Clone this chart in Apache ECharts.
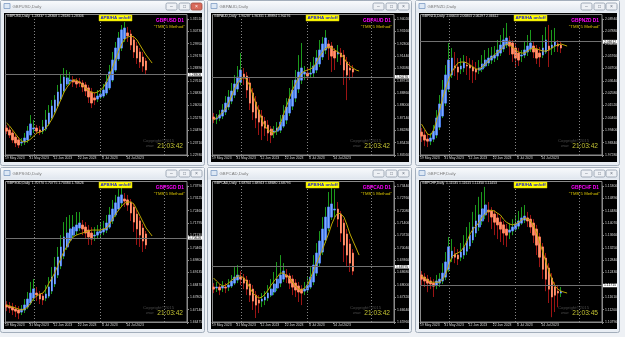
<!DOCTYPE html>
<html><head><meta charset="utf-8">
<script src="https://cdn.jsdelivr.net/npm/echarts/dist/echarts.min.js"></script>
<style>html,body{margin:0;padding:0;background:#eef1f5;overflow:hidden}#c{width:625px;height:337px}</style>
</head><body><div id="c"></div>
<script>
const dates=['19 May 2023','22 May 2023','23 May 2023','24 May 2023','25 May 2023','26 May 2023','29 May 2023','30 May 2023','31 May 2023',
'1 Jun 2023','2 Jun 2023','5 Jun 2023','6 Jun 2023','7 Jun 2023','8 Jun 2023','9 Jun 2023','12 Jun 2023','13 Jun 2023','14 Jun 2023','15 Jun 2023','16 Jun 2023','19 Jun 2023','20 Jun 2023','21 Jun 2023','22 Jun 2023','23 Jun 2023','26 Jun 2023','27 Jun 2023','28 Jun 2023','29 Jun 2023','30 Jun 2023',
'3 Jul 2023','4 Jul 2023','5 Jul 2023','6 Jul 2023','7 Jul 2023','10 Jul 2023','11 Jul 2023','12 Jul 2023','13 Jul 2023','14 Jul 2023','17 Jul 2023','18 Jul 2023','19 Jul 2023','20 Jul 2023','21 Jul 2023','24 Jul 2023',
'25 Jul 2023','26 Jul 2023','27 Jul 2023','28 Jul 2023','31 Jul 2023','1 Aug 2023','2 Aug 2023','3 Aug 2023','4 Aug 2023','7 Aug 2023','8 Aug 2023','9 Aug 2023','10 Aug 2023'];
const dateLabels=['19 May 2023','31 May 2023','12 Jun 2023','22 Jun 2023','4 Jul 2023','14 Jul 2023'];
const monthSeparators=['1 Jun 2023','3 Jul 2023','1 Aug 2023'];

// GBPUSD
const usdTicks=['1.31510','1.30730','1.29950','1.29170','1.28390','1.27610','1.26830','1.26050','1.25270','1.24490','1.23710','1.22930'];
const usdOpen=[1.2463,1.2451,1.2432,1.2406,1.2388,1.2369,1.2375,1.2388,1.2419,1.2457,1.2463,1.2451,1.2444,1.2457,1.2489,1.2526,1.2564,1.2602,1.2646,1.2697,1.2741,1.2760,1.2766,1.2760,1.2754,1.2747,1.2735,1.2716,1.2690,1.2653,1.2646,1.2659,1.2665,1.2684,1.2716,1.2766,1.2829,1.2899,1.2968,1.3025,1.3063,1.3056,1.3019,1.2981,1.2943,1.2911,1.2886];
const usdClose=[1.2444,1.2419,1.2388,1.2369,1.2356,1.2375,1.2400,1.2444,1.2489,1.2463,1.2444,1.2438,1.2470,1.2514,1.2558,1.2602,1.2640,1.2690,1.2741,1.2785,1.2779,1.2766,1.2754,1.2741,1.2747,1.2722,1.2697,1.2659,1.2621,1.2640,1.2665,1.2678,1.2703,1.2754,1.2817,1.2892,1.2968,1.3031,1.3082,1.3094,1.3044,1.2987,1.2943,1.2905,1.2880,1.2854,1.2829];
const usdHigh=[1.2482,1.2470,1.2451,1.2425,1.2406,1.2400,1.2432,1.2476,1.2545,1.2514,1.2482,1.2476,1.2514,1.2577,1.2608,1.2640,1.2671,1.2735,1.2798,1.2842,1.2829,1.2817,1.2791,1.2779,1.2779,1.2766,1.2754,1.2735,1.2716,1.2690,1.2703,1.2716,1.2741,1.2798,1.2861,1.2943,1.3006,1.3069,1.3113,1.3132,1.3101,1.3082,1.3044,1.3006,1.2968,1.2943,1.2905];
const usdLow=[1.2425,1.2400,1.2369,1.2343,1.2337,1.2350,1.2356,1.2369,1.2406,1.2432,1.2425,1.2419,1.2425,1.2444,1.2476,1.2514,1.2552,1.2589,1.2634,1.2678,1.2728,1.2735,1.2722,1.2716,1.2722,1.2690,1.2665,1.2621,1.2589,1.2608,1.2627,1.2646,1.2653,1.2671,1.2703,1.2754,1.2817,1.2886,1.2949,1.3006,1.3006,1.2955,1.2905,1.2867,1.2842,1.2817,1.2804];
const usdMA=[1.2495,1.2476,1.2451,1.2425,1.2400,1.2381,1.2375,1.2381,1.2394,1.2413,1.2432,1.2438,1.2444,1.2463,1.2489,1.2520,1.2558,1.2602,1.2646,1.2690,1.2722,1.2747,1.2766,1.2766,1.2754,1.2735,1.2716,1.2703,1.2690,1.2684,1.2690,1.2703,1.2722,1.2754,1.2798,1.2848,1.2899,1.2949,1.2993,1.3025,1.3037,1.3044,1.3037,1.3019,1.2987,1.2955,1.2924,1.2899,1.2873];

// GBPAUD
const audTicks=['1.94020','1.93160','1.92300','1.91440','1.90580','1.89720','1.88860','1.88000','1.87140','1.86280','1.85420','1.84560'];
const audOpen=[1.8720,1.8706,1.8713,1.8727,1.8755,1.8790,1.8831,1.8873,1.8915,1.8963,1.9019,1.9005,1.8957,1.8887,1.8824,1.8769,1.8727,1.8692,1.8664,1.8636,1.8616,1.8622,1.8629,1.8657,1.8699,1.8748,1.8796,1.8852,1.8915,1.8977,1.9019,1.9026,1.9019,1.9026,1.9047,1.9089,1.9138,1.9186,1.9228,1.9214,1.9179,1.9158,1.9165,1.9151,1.9103,1.9061,1.9054];
const audClose=[1.8706,1.8713,1.8734,1.8769,1.8817,1.8859,1.8901,1.8950,1.8998,1.9047,1.8991,1.8908,1.8817,1.8755,1.8713,1.8685,1.8657,1.8643,1.8609,1.8595,1.8622,1.8643,1.8685,1.8734,1.8790,1.8845,1.8908,1.8977,1.9033,1.9061,1.9033,1.9005,1.9026,1.9075,1.9131,1.9186,1.9228,1.9270,1.9200,1.9144,1.9131,1.9172,1.9138,1.9047,1.9012,1.9047,1.9033];
const audHigh=[1.8748,1.8741,1.8769,1.8810,1.8866,1.8908,1.8957,1.9012,1.9075,1.9165,1.9061,1.9033,1.8991,1.8922,1.8866,1.8803,1.8769,1.8720,1.8699,1.8657,1.8657,1.8685,1.8734,1.8803,1.8852,1.8922,1.8977,1.9047,1.9151,1.9235,1.9075,1.9068,1.9103,1.9138,1.9186,1.9256,1.9277,1.9325,1.9256,1.9242,1.9200,1.9221,1.9200,1.9186,1.9138,1.9103,1.9082];
const audLow=[1.8678,1.8671,1.8692,1.8706,1.8734,1.8769,1.8810,1.8852,1.8894,1.8943,1.8943,1.8852,1.8769,1.8699,1.8643,1.8595,1.8560,1.8588,1.8553,1.8539,1.8574,1.8595,1.8609,1.8643,1.8671,1.8727,1.8769,1.8824,1.8887,1.8950,1.8977,1.8977,1.8991,1.8998,1.9026,1.9068,1.9117,1.9158,1.9117,1.9033,1.9047,1.9103,1.9082,1.8943,1.8838,1.8977,1.8991];
const audMA=[1.8699,1.8713,1.8734,1.8755,1.8776,1.8817,1.8866,1.8922,1.8957,1.8984,1.8998,1.8977,1.8936,1.8873,1.8810,1.8755,1.8699,1.8657,1.8629,1.8616,1.8609,1.8629,1.8671,1.8734,1.8790,1.8852,1.8908,1.8950,1.8991,1.9026,1.9040,1.9047,1.9054,1.9068,1.9103,1.9144,1.9172,1.9200,1.9207,1.9200,1.9186,1.9172,1.9158,1.9131,1.9096,1.9075,1.9061,1.9047,1.9040];

// GBPNZD
const nzdTicks=['2.08940','2.07880','2.06820','2.05760','2.04700','2.03640','2.02580','2.01520','2.00460','1.99400','1.98340','1.97280'];
const nzdOpen=[1.9924,1.9899,1.9864,1.9847,1.9864,1.9899,1.9967,2.0062,2.0173,2.0293,2.0414,2.0491,2.0482,2.0465,2.0474,2.0499,2.0499,2.0482,2.0465,2.0456,2.0465,2.0491,2.0517,2.0542,2.0559,2.0577,2.0602,2.0637,2.0671,2.0705,2.0688,2.0645,2.0602,2.0577,2.0585,2.0611,2.0637,2.0662,2.0637,2.0602,2.0585,2.0611,2.0662,2.0645,2.0662,2.0680,2.0671];
const nzdClose=[1.9890,1.9856,1.9847,1.9873,1.9933,2.0045,2.0165,2.0285,2.0414,2.0542,2.0559,2.0474,2.0439,2.0491,2.0525,2.0491,2.0474,2.0448,2.0439,2.0474,2.0508,2.0542,2.0559,2.0577,2.0585,2.0628,2.0671,2.0714,2.0731,2.0662,2.0594,2.0559,2.0542,2.0585,2.0628,2.0662,2.0688,2.0611,2.0559,2.0568,2.0645,2.0714,2.0628,2.0671,2.0697,2.0662,2.0645];
const nzdHigh=[1.9959,1.9942,1.9907,1.9916,1.9985,2.0113,2.0242,2.0371,2.0499,2.0688,2.0645,2.0611,2.0559,2.0559,2.0585,2.0577,2.0559,2.0542,2.0525,2.0542,2.0585,2.0628,2.0645,2.0654,2.0662,2.0714,2.0757,2.0817,2.0860,2.0748,2.0714,2.0680,2.0645,2.0628,2.0697,2.0757,2.0800,2.0697,2.0671,2.0654,2.0757,2.0825,2.0843,2.0800,2.0817,2.0714,2.0697];
const nzdLow=[1.9839,1.9804,1.9796,1.9813,1.9839,1.9873,1.9942,2.0045,2.0148,2.0268,2.0388,2.0405,2.0371,2.0422,2.0439,2.0414,2.0371,2.0345,2.0371,2.0422,2.0439,2.0474,2.0491,2.0508,2.0525,2.0542,2.0577,2.0611,2.0645,2.0585,2.0525,2.0482,2.0491,2.0525,2.0559,2.0577,2.0611,2.0559,2.0508,2.0482,2.0559,2.0594,2.0482,2.0585,2.0611,2.0611,2.0602];
const nzdMA=[1.9993,1.9950,1.9907,1.9899,1.9942,2.0027,2.0113,2.0216,2.0302,2.0379,2.0439,2.0482,2.0517,2.0525,2.0525,2.0517,2.0499,2.0482,2.0465,2.0465,2.0482,2.0508,2.0534,2.0559,2.0585,2.0611,2.0628,2.0654,2.0680,2.0671,2.0654,2.0628,2.0611,2.0602,2.0602,2.0619,2.0637,2.0645,2.0637,2.0628,2.0619,2.0619,2.0628,2.0645,2.0662,2.0671,2.0680,2.0671,2.0662];

// GBPSGD
const sgdTicks=['1.73790','1.73125','1.72460','1.71795','1.71130','1.70465','1.69800','1.69135','1.68470','1.67805','1.67140','1.66475'];
const sgdOpen=[1.6739,1.6733,1.6728,1.6717,1.6712,1.6701,1.6712,1.6728,1.6750,1.6776,1.6803,1.6798,1.6787,1.6776,1.6787,1.6814,1.6852,1.6900,1.6949,1.7002,1.7051,1.7088,1.7115,1.7137,1.7153,1.7169,1.7158,1.7142,1.7126,1.7110,1.7115,1.7126,1.7132,1.7142,1.7158,1.7191,1.7223,1.7255,1.7288,1.7309,1.7304,1.7293,1.7266,1.7228,1.7191,1.7153,1.7121];
const sgdClose=[1.6728,1.6723,1.6712,1.6706,1.6696,1.6717,1.6739,1.6771,1.6803,1.6825,1.6793,1.6771,1.6766,1.6798,1.6836,1.6889,1.6943,1.6997,1.7051,1.7105,1.7126,1.7148,1.7158,1.7169,1.7180,1.7148,1.7126,1.7105,1.7094,1.7115,1.7132,1.7137,1.7148,1.7180,1.7223,1.7255,1.7288,1.7320,1.7331,1.7298,1.7277,1.7234,1.7185,1.7148,1.7115,1.7083,1.7062];
const sgdHigh=[1.6760,1.6755,1.6750,1.6739,1.6733,1.6739,1.6771,1.6809,1.6863,1.6879,1.6836,1.6814,1.6803,1.6846,1.6889,1.6943,1.6997,1.7051,1.7115,1.7185,1.7212,1.7223,1.7223,1.7239,1.7239,1.7196,1.7185,1.7169,1.7158,1.7158,1.7169,1.7180,1.7191,1.7223,1.7266,1.7304,1.7331,1.7363,1.7374,1.7341,1.7331,1.7309,1.7288,1.7250,1.7212,1.7175,1.7137];
const sgdLow=[1.6706,1.6696,1.6685,1.6674,1.6663,1.6685,1.6696,1.6717,1.6739,1.6760,1.6760,1.6744,1.6739,1.6760,1.6776,1.6798,1.6836,1.6884,1.6932,1.6986,1.7035,1.7072,1.7094,1.7115,1.7137,1.7115,1.7094,1.7062,1.7062,1.7083,1.7094,1.7105,1.7115,1.7126,1.7148,1.7175,1.7212,1.7245,1.7266,1.7266,1.7245,1.7191,1.7132,1.7062,1.7051,1.7024,1.7040];
const sgdMA=[1.6739,1.6733,1.6728,1.6723,1.6717,1.6712,1.6717,1.6728,1.6750,1.6776,1.6787,1.6798,1.6803,1.6825,1.6857,1.6884,1.6916,1.6954,1.6992,1.7029,1.7056,1.7083,1.7105,1.7115,1.7121,1.7126,1.7132,1.7137,1.7142,1.7142,1.7142,1.7142,1.7148,1.7153,1.7175,1.7201,1.7228,1.7250,1.7271,1.7288,1.7293,1.7293,1.7282,1.7250,1.7218,1.7185,1.7153,1.7132,1.7110];

// GBPCAD
const cadTicks=['1.73440','1.72760','1.72080','1.71400','1.70720','1.70040','1.69360','1.68680','1.68000','1.67320','1.66640','1.65960'];
const cadOpen=[1.6788,1.6783,1.6788,1.6783,1.6788,1.6788,1.6794,1.6810,1.6827,1.6843,1.6838,1.6827,1.6805,1.6777,1.6744,1.6717,1.6711,1.6717,1.6728,1.6744,1.6761,1.6783,1.6810,1.6832,1.6854,1.6849,1.6832,1.6810,1.6794,1.6777,1.6766,1.6772,1.6788,1.6816,1.6865,1.6920,1.6981,1.7047,1.7113,1.7173,1.7212,1.7217,1.7190,1.7140,1.7080,1.7025,1.6975];
const cadClose=[1.6777,1.6788,1.6772,1.6794,1.6783,1.6799,1.6821,1.6843,1.6854,1.6832,1.6810,1.6777,1.6744,1.6711,1.6689,1.6700,1.6722,1.6733,1.6755,1.6777,1.6805,1.6832,1.6854,1.6876,1.6843,1.6810,1.6788,1.6772,1.6761,1.6755,1.6777,1.6799,1.6843,1.6909,1.6975,1.7041,1.7107,1.7173,1.7228,1.7245,1.7217,1.7162,1.7085,1.7019,1.6964,1.6920,1.6876];
const cadHigh=[1.6810,1.6816,1.6805,1.6821,1.6810,1.6832,1.6854,1.6898,1.6909,1.6876,1.6860,1.6849,1.6827,1.6799,1.6766,1.6744,1.6755,1.6766,1.6799,1.6832,1.6871,1.6926,1.6964,1.6920,1.6887,1.6865,1.6854,1.6832,1.6816,1.6799,1.6816,1.6843,1.6898,1.6964,1.7030,1.7096,1.7173,1.7228,1.7311,1.7333,1.7327,1.7256,1.7206,1.7162,1.7107,1.7052,1.6997];
const cadLow=[1.6755,1.6761,1.6744,1.6761,1.6755,1.6766,1.6783,1.6799,1.6810,1.6799,1.6777,1.6744,1.6706,1.6662,1.6618,1.6645,1.6678,1.6689,1.6711,1.6733,1.6744,1.6766,1.6788,1.6816,1.6810,1.6777,1.6744,1.6733,1.6706,1.6689,1.6744,1.6755,1.6777,1.6799,1.6849,1.6904,1.6964,1.7030,1.7096,1.7157,1.7173,1.7118,1.7036,1.6926,1.6898,1.6871,1.6854];
const cadMA=[1.6838,1.6821,1.6805,1.6794,1.6799,1.6810,1.6827,1.6838,1.6849,1.6849,1.6838,1.6816,1.6783,1.6755,1.6739,1.6728,1.6733,1.6750,1.6772,1.6799,1.6821,1.6843,1.6865,1.6865,1.6854,1.6838,1.6816,1.6794,1.6777,1.6772,1.6783,1.6799,1.6838,1.6882,1.6920,1.6959,1.6997,1.7041,1.7085,1.7135,1.7173,1.7196,1.7190,1.7173,1.7130,1.7080,1.7041,1.7003,1.6964];

// GBPCHF
const chfTicks=['1.15300','1.14890','1.14480','1.14070','1.13660','1.13250','1.12840','1.12430','1.12020','1.11610','1.11200','1.10790'];
const chfOpen=[1.1235,1.1228,1.1221,1.1215,1.1208,1.1201,1.1208,1.1215,1.1228,1.1254,1.1291,1.1304,1.1301,1.1294,1.1301,1.1314,1.1331,1.1351,1.1374,1.1394,1.1414,1.1434,1.1450,1.1447,1.1437,1.1424,1.1410,1.1401,1.1387,1.1377,1.1381,1.1387,1.1397,1.1407,1.1417,1.1424,1.1420,1.1407,1.1387,1.1361,1.1328,1.1291,1.1258,1.1225,1.1195,1.1181,1.1175];
const chfClose=[1.1221,1.1215,1.1208,1.1205,1.1198,1.1215,1.1221,1.1241,1.1278,1.1328,1.1314,1.1294,1.1288,1.1311,1.1328,1.1347,1.1367,1.1394,1.1414,1.1434,1.1454,1.1467,1.1444,1.1427,1.1410,1.1401,1.1387,1.1374,1.1367,1.1384,1.1394,1.1404,1.1414,1.1424,1.1430,1.1414,1.1394,1.1367,1.1334,1.1294,1.1254,1.1221,1.1188,1.1162,1.1168,1.1175,1.1181];
const chfHigh=[1.1248,1.1241,1.1235,1.1228,1.1221,1.1235,1.1241,1.1274,1.1311,1.1361,1.1354,1.1328,1.1321,1.1341,1.1367,1.1394,1.1410,1.1444,1.1467,1.1494,1.1510,1.1527,1.1477,1.1460,1.1450,1.1440,1.1427,1.1414,1.1404,1.1407,1.1420,1.1434,1.1447,1.1460,1.1467,1.1444,1.1434,1.1420,1.1401,1.1374,1.1341,1.1308,1.1274,1.1241,1.1211,1.1201,1.1195];
const chfLow=[1.1201,1.1195,1.1178,1.1188,1.1162,1.1188,1.1195,1.1205,1.1218,1.1245,1.1278,1.1274,1.1268,1.1281,1.1288,1.1301,1.1321,1.1341,1.1361,1.1381,1.1401,1.1420,1.1410,1.1387,1.1367,1.1354,1.1344,1.1334,1.1328,1.1354,1.1367,1.1381,1.1387,1.1401,1.1407,1.1394,1.1374,1.1341,1.1301,1.1261,1.1221,1.1181,1.1142,1.1095,1.1112,1.1128,1.1162];
const chfMA=[1.1231,1.1225,1.1218,1.1211,1.1211,1.1211,1.1211,1.1221,1.1238,1.1268,1.1294,1.1304,1.1308,1.1314,1.1328,1.1347,1.1371,1.1387,1.1397,1.1410,1.1427,1.1437,1.1447,1.1450,1.1447,1.1440,1.1434,1.1420,1.1410,1.1404,1.1401,1.1404,1.1410,1.1417,1.1424,1.1420,1.1414,1.1397,1.1374,1.1341,1.1311,1.1278,1.1248,1.1221,1.1198,1.1188,1.1181,1.1178,1.1175];

const symbols=['GBPUSD','GBPAUD','GBPNZD','GBPSGD','GBPCAD','GBPCHF'];
const infoLines=['GBPUSD,Daily  1.28337 1.28368 1.28186 1.28306','GBPAUD,Daily  1.90287 1.90331 1.89894 1.90276','GBPNZD,Daily  2.06613 2.06803 2.06297 2.06612','GBPSGD,Daily  1.70770 1.70775 1.70384 1.70626','GBPCAD,Daily  1.68764 1.68943 1.68680 1.68795','GBPCHF,Daily  1.11535 1.11615 1.11350 1.11453'];
const lastPrices=[1.28306,1.90276,2.06612,1.70626,1.68795,1.11715];
const clocks=['21:03:42','21:03:42','21:03:42','21:03:42','21:03:42','21:03:45'];

const panels=[
 {open:usdOpen,close:usdClose,high:usdHigh,low:usdLow,ma:usdMA,ticks:usdTicks},
 {open:audOpen,close:audClose,high:audHigh,low:audLow,ma:audMA,ticks:audTicks},
 {open:nzdOpen,close:nzdClose,high:nzdHigh,low:nzdLow,ma:nzdMA,ticks:nzdTicks},
 {open:sgdOpen,close:sgdClose,high:sgdHigh,low:sgdLow,ma:sgdMA,ticks:sgdTicks},
 {open:cadOpen,close:cadClose,high:cadHigh,low:cadLow,ma:cadMA,ticks:cadTicks},
 {open:chfOpen,close:chfClose,high:chfHigh,low:chfLow,ma:chfMA,ticks:chfTicks}
];
const origins=[[0,0],[207,0],[415,0],[0,167],[207,167],[415,167]];
const FONT='Liberation Sans';
const SMALL=3.4;

const chart=echarts.init(document.getElementById('c'),null,{renderer:'canvas'});
const graphics=[],grids=[],xAxes=[],yAxes=[],series=[];
const showLabel=(idx,val)=>dateLabels.indexOf(val)>=0;

panels.forEach((p,i)=>{
  const [wx,wy]=origins[i];
  graphics.push({type:'rect',z:-30,shape:{x:wx+0.5,y:wy+0.5,width:204,height:165,r:2},style:{fill:'#e8edf3',stroke:'#a3aebb',lineWidth:1}});
  graphics.push({type:'rect',z:-29,shape:{x:wx+1,y:wy+1,width:203,height:11},style:{fill:new echarts.graphic.LinearGradient(0,0,0,1,[{offset:0,color:'#f8fafc'},{offset:1,color:'#e1e7ef'}])}});
  graphics.push({type:'rect',z:-28,shape:{x:wx+4,y:wy+3.5,width:6,height:5},style:{fill:'#dde8f5',stroke:'#7d9cc4',lineWidth:0.8}});
  graphics.push({type:'text',z:-28,x:wx+12.5,y:wy+6.5,style:{text:symbols[i]+',Daily',fill:'#7a7a7a',font:'4.3px '+FONT,textVerticalAlign:'middle',verticalAlign:'middle'}});
  [[166,'–'],[179,'□'],[191,'×']].forEach(([bx,g],k)=>{
    const red=(i===0&&k===2);
    graphics.push({type:'rect',z:-28,shape:{x:wx+bx,y:wy+3,width:11,height:7,r:1.5},style:{fill:red?'#d86a5a':'#eef1f5',stroke:red?'#a24a3e':'#8e9aa8',lineWidth:0.8}});
    graphics.push({type:'text',z:-27,x:wx+bx+5.5,y:wy+6.5,style:{text:g,fill:red?'#fff':'#6a7380',font:'5px '+FONT,textAlign:'center',align:'center',textVerticalAlign:'middle',verticalAlign:'middle'}});
  });
  graphics.push({type:'rect',z:-25,shape:{x:wx+4,y:wy+13,width:198,height:149},style:{fill:'#000'}});
  graphics.push({type:'rect',z:-24,shape:{x:wx+5.5,y:wy+14.5,width:181.5,height:140.5},style:{fill:'none',stroke:'#8a8a8a',lineWidth:1}});
  graphics.push({type:'text',z:50,x:wx+7,y:wy+16.5,style:{text:infoLines[i],fill:'#e6e6e6',font:SMALL+'px '+FONT,textVerticalAlign:'middle',verticalAlign:'middle'}});
  graphics.push({type:'rect',z:50,shape:{x:wx+99,y:wy+15,width:33,height:6},style:{fill:'#ffff00',stroke:'#d0c000',lineWidth:0.5}});
  graphics.push({type:'text',z:51,x:wx+115.5,y:wy+18,style:{text:'APB/HA on/off',fill:'#1a1ad0',font:'bold 4.4px '+FONT,textAlign:'center',align:'center',textVerticalAlign:'middle',verticalAlign:'middle'}});
  graphics.push({type:'text',z:50,x:wx+184,y:wy+20.5,style:{text:symbols[i]+' D1',fill:'#ff00ff',font:'bold 4.8px '+FONT,textAlign:'right',align:'right',textVerticalAlign:'middle',verticalAlign:'middle'}});
  graphics.push({type:'text',z:50,x:wx+185,y:wy+27,style:{text:'"TMS 5 Method"',fill:'#d9c400',font:'4.3px '+FONT,textAlign:'right',align:'right',textVerticalAlign:'middle',verticalAlign:'middle'}});
  graphics.push({type:'text',z:50,x:wx+143,y:wy+141,style:{text:'Copyright©2015',fill:'#4a4a4a',font:'4.3px '+FONT,textVerticalAlign:'middle',verticalAlign:'middle'}});
  graphics.push({type:'text',z:50,x:wx+146,y:wy+146,style:{text:'www',fill:'#4a4a4a',font:'3.5px '+FONT,textVerticalAlign:'middle',verticalAlign:'middle'}});
  graphics.push({type:'text',z:50,x:wx+183,y:wy+146.5,style:{text:clocks[i],fill:'#c2c233',font:'6.6px '+FONT,textAlign:'right',align:'right',textVerticalAlign:'middle',verticalAlign:'middle'}});

  grids.push({left:wx+5,top:wy+19,width:182,height:136,containLabel:false,show:false});
  xAxes.push({gridIndex:i,type:'category',data:dates,boundaryGap:true,
    axisLine:{show:true,lineStyle:{color:'#8a8a8a'}},
    axisTick:{show:true,length:2,interval:showLabel,lineStyle:{color:'#8a8a8a'}},
    axisLabel:{interval:showLabel,showMinLabel:true,hideOverlap:false,fontSize:SMALL,fontFamily:FONT,color:'#d8d8d8',margin:2,align:'left',padding:[0,0,0,-1.5]},
    splitLine:{show:false}});
  const ticks=p.ticks;
  yAxes.push({gridIndex:i,type:'value',min:Number(ticks[ticks.length-1]),max:Number(ticks[0]),show:false,splitLine:{show:false}});
  yAxes.push({gridIndex:i,type:'category',data:ticks.slice().reverse(),boundaryGap:false,position:'right',
    axisLine:{show:true,lineStyle:{color:'#8a8a8a'}},
    axisTick:{show:true,length:2,lineStyle:{color:'#8a8a8a'}},
    axisLabel:{fontSize:SMALL,fontFamily:FONT,color:'#d8d8d8',margin:3},splitLine:{show:false}});

  const wick=p.open.map((o,k)=>[o,p.close[k],p.low[k],p.high[k]]);
  const body=p.open.map((o,k)=>[o,p.close[k],Math.min(o,p.close[k]),Math.max(o,p.close[k])]);
  series.push({type:'candlestick',xAxisIndex:i,yAxisIndex:2*i,data:wick,barWidth:0.3,clip:false,z:2,
    itemStyle:{color:'#1c9a1c',color0:'#9c1414',borderColor:'#1c9a1c',borderColor0:'#9c1414',borderWidth:1}});
  series.push({type:'candlestick',xAxisIndex:i,yAxisIndex:2*i,data:body,barWidth:2.2,clip:false,z:3,
    itemStyle:{color:'#4a7de4',color0:'#f47a55',borderColor:'#4a7de4',borderColor0:'#f47a55',borderWidth:1}});
  series.push({type:'candlestick',xAxisIndex:i,yAxisIndex:2*i,data:body,barWidth:0.2,clip:false,z:3,
    itemStyle:{color:'#8fb6ff',color0:'#ff9c7c',borderColor:'#8fb6ff',borderColor0:'#ff9c7c',borderWidth:0.8}});
  series.push({type:'line',xAxisIndex:i,yAxisIndex:2*i,data:p.ma,showSymbol:false,symbol:'none',z:4,clip:false,
    lineStyle:{color:'#bca600',width:1},
    markLine:{silent:true,symbol:['none','none'],animation:false,
      data:monthSeparators.map(d=>({xAxis:d,lineStyle:{type:[1,2],color:'#858585',width:1},label:{show:false}})).concat([
        {yAxis:lastPrices[i],lineStyle:{type:'solid',color:'#707070',width:1},
         label:{show:true,position:'end',distance:1,formatter:lastPrices[i].toFixed(5),backgroundColor:'#ffffff',color:'#000',fontSize:SMALL,fontFamily:FONT,padding:[0.5,1,0,1]}}])}});
});

chart.setOption({animation:false,backgroundColor:'#eef1f5',graphic:graphics,grid:grids,xAxis:xAxes,yAxis:yAxes,series:series});
</script></body></html>
